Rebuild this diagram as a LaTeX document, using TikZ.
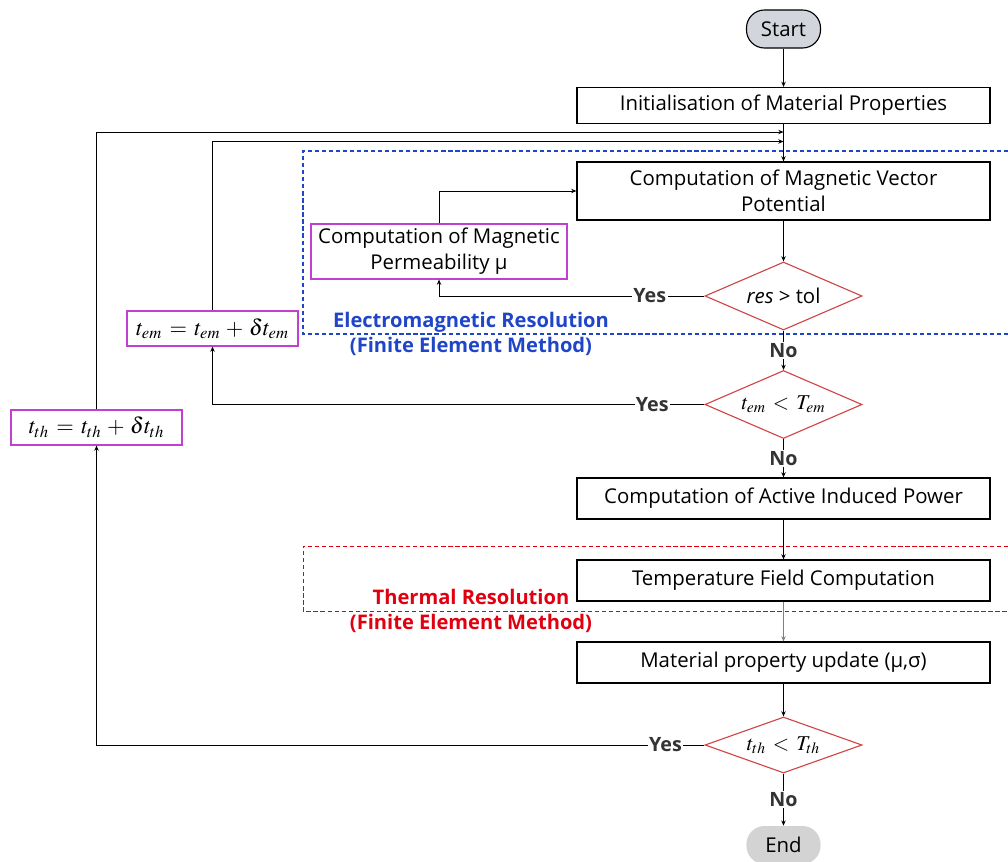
\documentclass[tikz,border=0pt]{standalone}
\usepackage{mathptmx}
\usepackage[no-math]{fontspec}
\setmainfont{Open Sans}
\usetikzlibrary{arrows.meta,positioning,shapes.geometric}

\definecolor{emblue}{HTML}{1F45C8}
\definecolor{thred}{HTML}{E00010}
\definecolor{decred}{HTML}{D04545}
\definecolor{calcmag}{HTML}{C040D0}
\definecolor{startgray}{HTML}{D2D5DB}
\definecolor{endgray}{HTML}{D3D3D3}
\definecolor{lblgray}{HTML}{333333}

\begin{document}
\begin{tikzpicture}[x=0.025cm, y=-0.025cm,
    font=\fontsize{14.5}{18.4}\selectfont,
    procbox/.style={draw, line width=0.8pt, minimum width=10.325cm, minimum height=1.025cm, inner sep=2pt, align=center},
    calcbox/.style={draw=calcmag, line width=0.8pt, inner sep=2pt, align=center},
    mathbig/.style={font=\fontsize{16}{19}\selectfont},
    mathmid/.style={font=\fontsize{15}{18}\selectfont},
    decide/.style={diamond, aspect=2.8, draw=decred, line width=0.8pt, minimum width=3.925cm, minimum height=1.7cm, inner sep=0pt},
    term/.style={rounded corners=0.45cm, minimum width=1.85cm, minimum height=0.95cm, inner sep=0pt},
    flow/.style={-{Stealth[length=1.3mm,width=1.1mm]}, line width=0.6pt},
    lbl/.style={fill=white, inner sep=1pt, text=lblgray, font=\fontsize{14}{16}\selectfont\bfseries}]
  \useasboundingbox (0,0) rectangle (1008,862);

  % main column
  \node[term, draw, line width=0.8pt, fill=startgray] (start) at (783.5,29) {Start};
  \node[procbox, minimum height=0.9cm] (init) at (783.5,105.5) {Initialisation of Material Properties};
  \node[procbox, minimum height=1.45cm] (vecpot) at (783.5,191) {Computation of Magnetic Vector\\Potential};
  \node[decide] (res) at (783.5,296) {\textit{res} > tol};
  \node[decide, mathmid] (temcheck) at (783.5,404.5) {$t_{em} \,<\, T_{em}$};
  \node[procbox] (power) at (783.5,498.5) {Computation of Active Induced Power};
  \node[procbox] (temp) at (783.5,580.5) {Temperature Field Computation};
  \node[procbox] (update) at (783.5,662.5) {Material property update (μ,σ)};
  \node[decide, mathmid, minimum height=1.4cm] (thcheck) at (783.5,745) {$t_{th} \,<\, T_{th}$};
  \node[term, fill=endgray] (end) at (783.5,845) {End};

  % side boxes
  \node[calcbox, minimum width=6.4cm, minimum height=1.375cm] (perm) at (439,251.5) {Computation of Magnetic\\Permeability μ};
  \node[calcbox, mathbig, minimum width=4.275cm, minimum height=0.875cm] (incem) at (212.5,328.5) {$t_{em} \,=\, t_{em} \,+\, \delta t_{em}$};
  \node[calcbox, mathbig, minimum width=4.275cm, minimum height=0.875cm] (incth) at (96.5,427.5) {$t_{th} \,=\, t_{th} \,+\, \delta t_{th}$};

  \coordinate (jth) at (783.5,132);
  \coordinate (jem) at (783.5,141.5);

  % resolution frames
  \draw[emblue, dashed, line width=0.8pt, dash pattern=on 3pt off 2pt] (1008,151) -| (303,334) -- (1008,334);
  \draw[thred, dashed, line width=0.6pt, dash pattern=on 3pt off 2pt] (1008,546) -| (303,611) -- (1008,611);
  \node[text=emblue, font=\fontsize{14.3}{18.4}\selectfont\bfseries, align=center] (emlbl) at (471,334) {Electromagnetic Resolution\\(Finite Element Method)};
  \node[text=thred, font=\fontsize{14.3}{18.4}\selectfont\bfseries, align=center] (thlbl) at (471,611) {Thermal Resolution\\(Finite Element Method)};

  % connectors
  \draw[flow] (start) -- (init);
  \draw[flow] (init) -- (vecpot);
  \draw[flow] (vecpot) -- (res);
  \draw[flow] (res.west) -| node[lbl, pos=0.103] {Yes} (perm.south);
  \draw[flow] (perm.north) |- (vecpot.west);
  \draw[flow] (res.south) -- node[lbl] {No} (temcheck.north);
  \draw[flow] (temcheck.west) -| node[lbl, pos=0.053] {Yes} (incem.south);
  \draw[flow] (incem.north) |- (jem);
  \draw[flow] (temcheck.south) -- node[lbl] {No} (power.north);
  \draw[flow] (power) -- (temp);
  \draw[flow, gray] (temp) -- (update);
  \draw[flow] (update) -- (thcheck);
  \draw[flow] (thcheck.west) -| node[lbl, pos=0.032] {Yes} (incth.south);
  \draw[flow] (incth.north) |- (jth);
  \draw[flow] (thcheck.south) -- node[lbl] {No} (end.north);
\end{tikzpicture}
\end{document}
